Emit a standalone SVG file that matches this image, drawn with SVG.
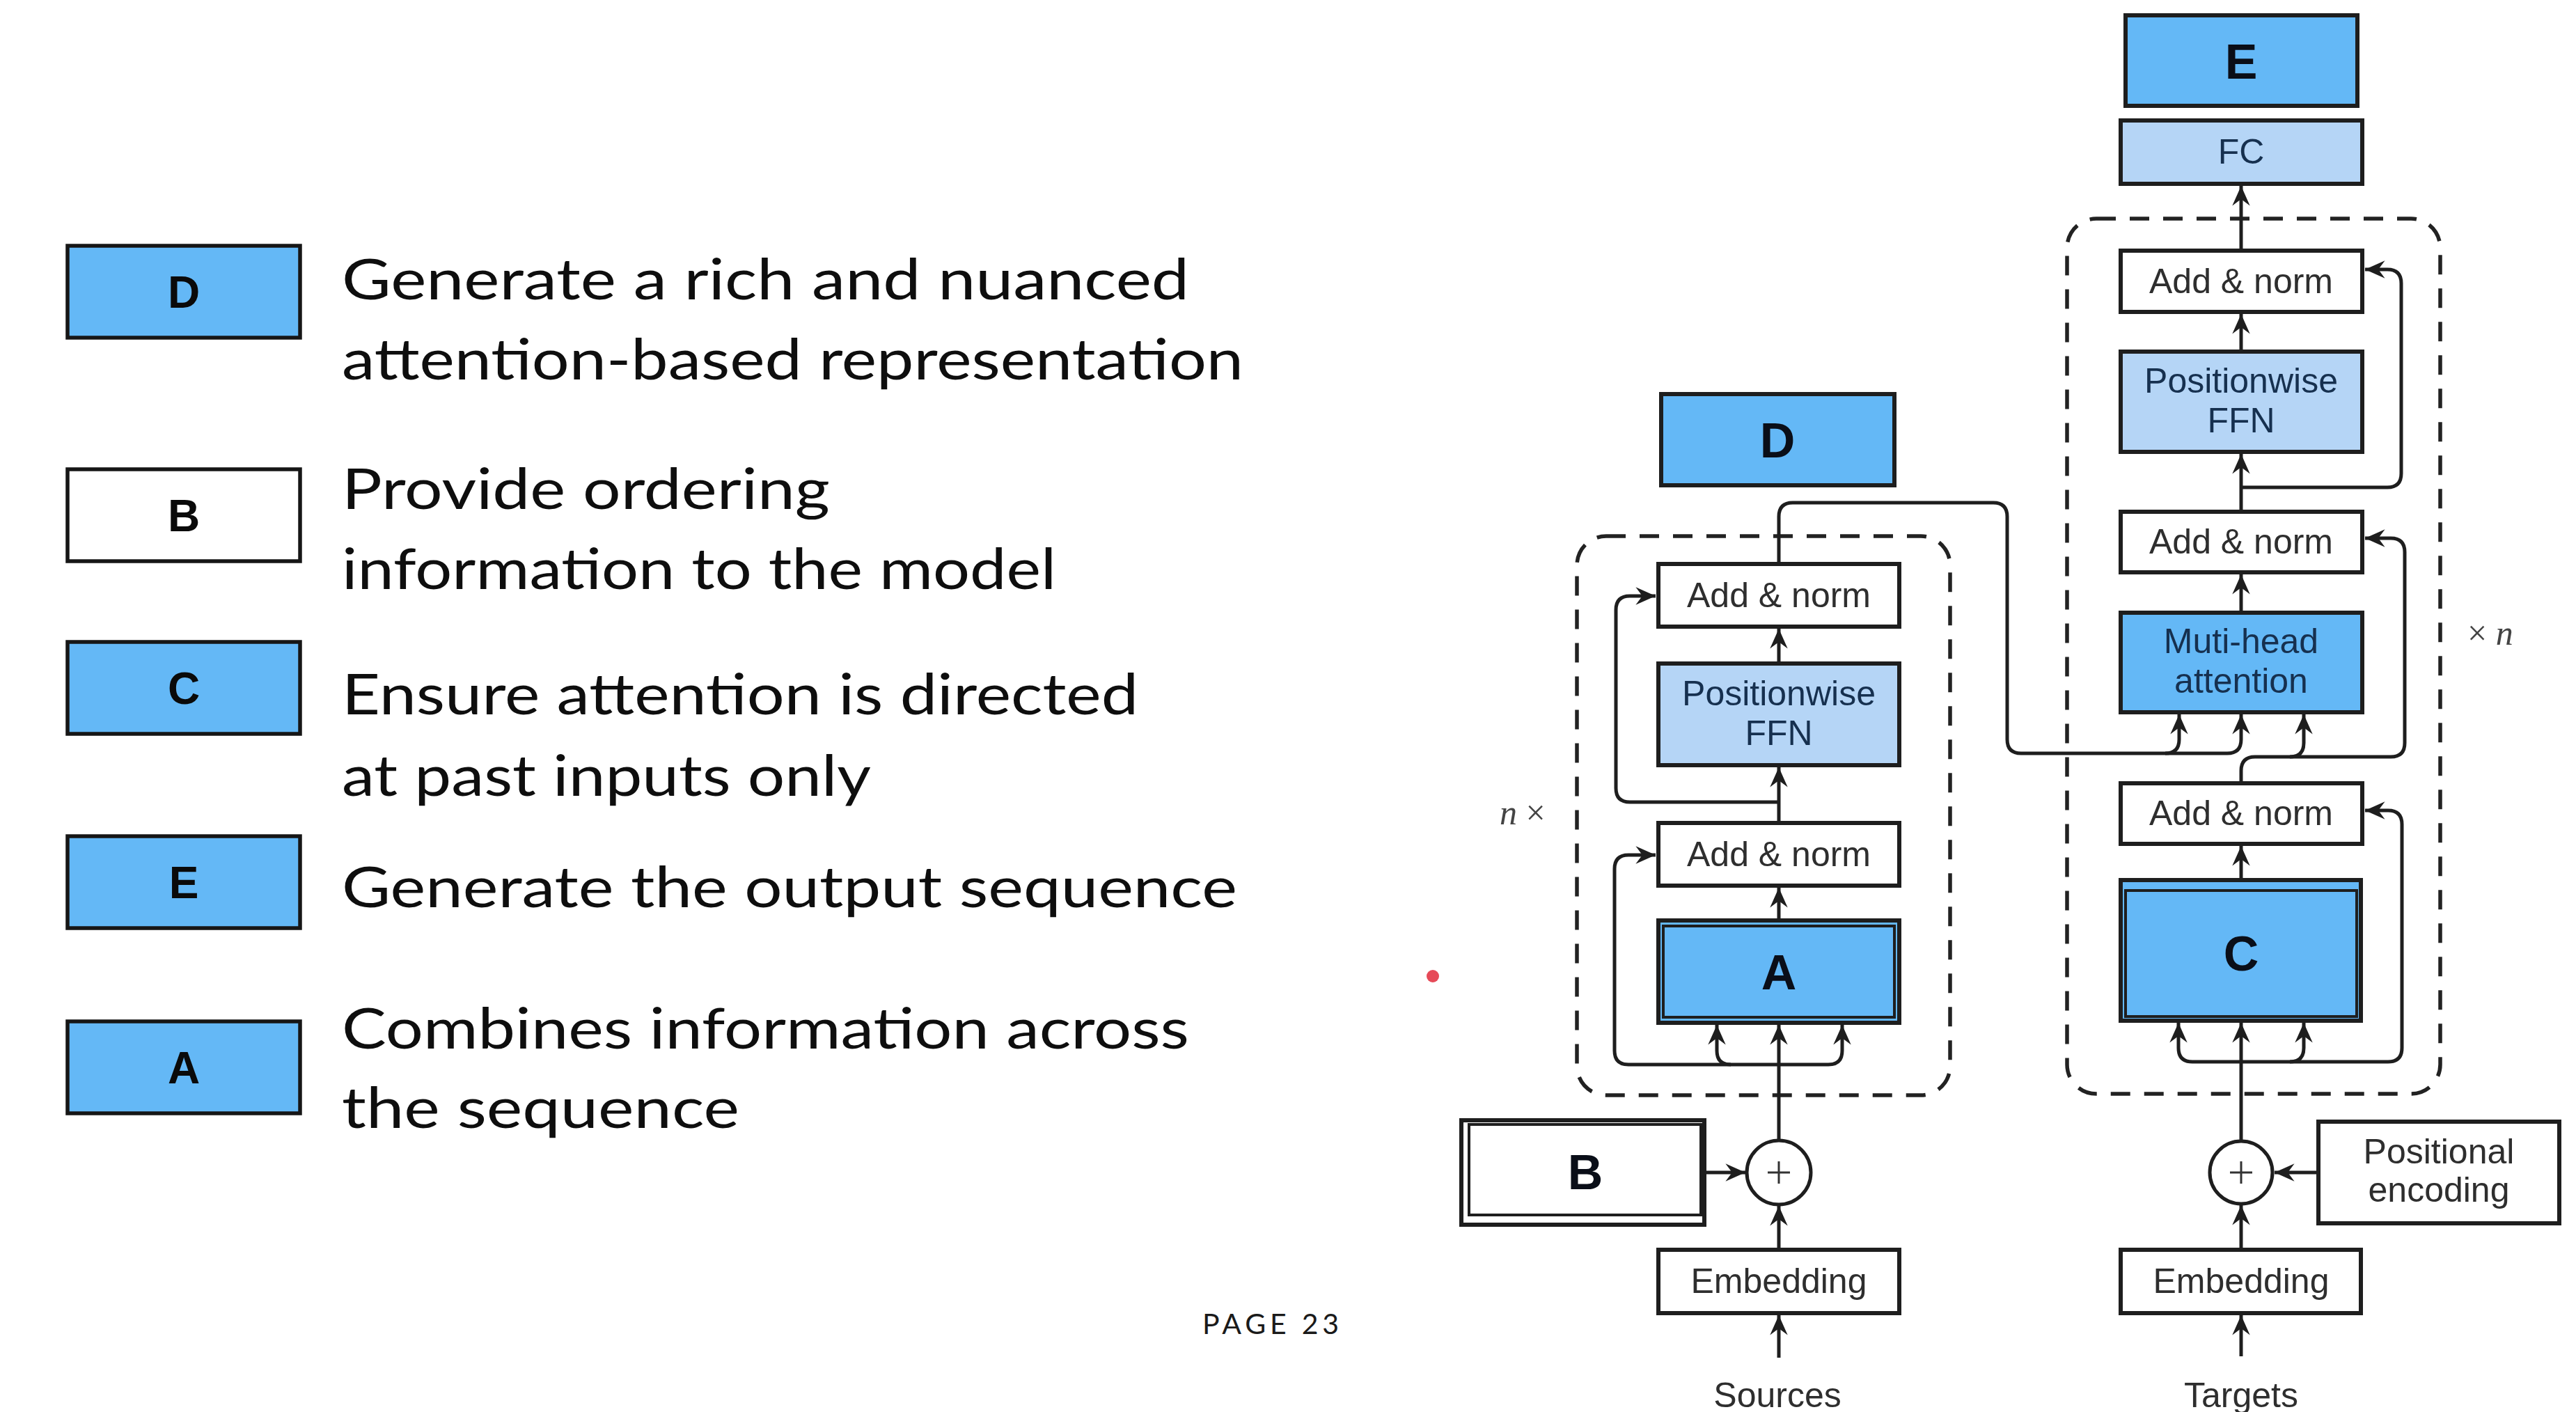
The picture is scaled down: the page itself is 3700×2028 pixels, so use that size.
<svg xmlns="http://www.w3.org/2000/svg" width="3700" height="2028" viewBox="0 0 3700 2028">
  <defs>
    <marker id="ah" markerUnits="userSpaceOnUse" markerWidth="36" markerHeight="36" viewBox="-30 -15 34 30" refX="0" refY="0" orient="auto">
      <path d="M0,0 L-27,-12 L-18,0 L-27,12 Z" fill="#1e1e1e"/>
    </marker>
  </defs>
  <style>
    .box { stroke: #1e1e1e; stroke-width: 6; }
    .white { fill: #ffffff; }
    .blue { fill: #64b8f6; }
    .light { fill: #b5d5f6; }
    .lgbox { stroke: #161616; stroke-width: 5.5; }
    .lbl { font-family: "Liberation Sans", Arial, Helvetica, sans-serif; font-size: 50px; fill: #2e2e2e; text-anchor: middle; }
    .navy { fill: #16304f; }
    .big { font-family: "Liberation Sans", Arial, Helvetica, sans-serif; font-weight: bold; font-size: 70px; fill: #0a0e18; text-anchor: middle; }
    .lgletter { font-family: "Liberation Sans", Arial, Helvetica, sans-serif; font-weight: bold; font-size: 64px; fill: #0a0a0a; text-anchor: middle; }
    .desc { font-family: Lato, "Open Sans", "Liberation Sans", sans-serif; font-size: 82px; fill: #0e0e0e; }
    .conn { fill: none; stroke: #1e1e1e; stroke-width: 5; }
    .arr { marker-end: url(#ah); }
    .dash { fill: none; stroke: #222222; stroke-width: 5.5; stroke-dasharray: 28 20; }
    .rep { font-family: "Liberation Serif", "DejaVu Serif", serif; font-size: 50px; fill: #444444; }
  </style>
  <rect x="0" y="0" width="3700" height="2028" fill="#ffffff"/>

  <!-- legend: lettered boxes with their descriptions -->
  <g id="legend-D">
    <rect class="lgbox blue" x="97" y="353" width="334" height="132"/>
    <text class="lgletter" x="264" y="442">D</text>
    <text class="desc" x="491" y="430" textLength="1217" lengthAdjust="spacingAndGlyphs">Generate a rich and nuanced</text>
    <text class="desc" x="491" y="545" textLength="1295" lengthAdjust="spacingAndGlyphs">attention-based representation</text>
  </g>
  <g id="legend-B">
    <rect class="lgbox white" x="97" y="674" width="334" height="132"/>
    <text class="lgletter" x="264" y="763">B</text>
    <text class="desc" x="491" y="731" textLength="701" lengthAdjust="spacingAndGlyphs">Provide ordering</text>
    <text class="desc" x="491" y="846" textLength="1026" lengthAdjust="spacingAndGlyphs">information to the model</text>
  </g>
  <g id="legend-C">
    <rect class="lgbox blue" x="97" y="922" width="334" height="132"/>
    <text class="lgletter" x="264" y="1011">C</text>
    <text class="desc" x="491" y="1026" textLength="1144" lengthAdjust="spacingAndGlyphs">Ensure attention is directed</text>
    <text class="desc" x="491" y="1143" textLength="760" lengthAdjust="spacingAndGlyphs">at past inputs only</text>
  </g>
  <g id="legend-E">
    <rect class="lgbox blue" x="97" y="1201" width="334" height="132"/>
    <text class="lgletter" x="264" y="1290">E</text>
    <text class="desc" x="491" y="1303" textLength="1286" lengthAdjust="spacingAndGlyphs">Generate the output sequence</text>
  </g>
  <g id="legend-A">
    <rect class="lgbox blue" x="97" y="1467" width="334" height="132"/>
    <text class="lgletter" x="264" y="1556">A</text>
    <text class="desc" x="491" y="1506" textLength="1217" lengthAdjust="spacingAndGlyphs">Combines information across</text>
    <text class="desc" x="491" y="1620" textLength="571" lengthAdjust="spacingAndGlyphs">the sequence</text>
  </g>

  <g id="page-number">
    <text x="1727" y="1916" font-family="Lato, 'Liberation Sans', sans-serif" font-size="41" fill="#1a1a1a" textLength="196" lengthAdjust="spacing">PAGE  23</text>
  </g>
  <circle id="pointer-dot" cx="2058" cy="1402" r="9" fill="#e64a58"/>

  <!-- repeated blocks -->
  <g id="encoder-block">
    <rect class="dash" x="2265" y="770" width="536" height="803" rx="42"/>
    <text class="rep" x="2154" y="1184"><tspan font-style="italic">n</tspan> ×</text>
  </g>
  <g id="decoder-block">
    <rect class="dash" x="2969" y="314" width="536" height="1257" rx="42"/>
    <text class="rep" x="3544" y="926">× <tspan font-style="italic">n</tspan></text>
  </g>

  <!-- connectors -->
  <g id="connectors">
    <!-- encoder -->
    <path class="conn arr" d="M2555,1950 V1889"/>
    <path class="conn arr" d="M2555,1795 V1732"/>
    <path class="conn arr" d="M2448,1684 H2507"/>
    <path class="conn arr" d="M2555,1638 V1472"/>
    <path class="conn arr" d="M2555,1529 H2486 Q2466,1529 2466,1509 V1472"/>
    <path class="conn arr" d="M2555,1529 H2626 Q2646,1529 2646,1509 V1472"/>
    <path class="conn arr" d="M2486,1529 H2339 Q2319,1529 2319,1509 V1248 Q2319,1228 2339,1228 H2378"/>
    <path class="conn arr" d="M2555,1322 V1275"/>
    <path class="conn arr" d="M2555,1182 V1102"/>
    <path class="conn arr" d="M2555,1152 H2341 Q2321,1152 2321,1132 V876 Q2321,856 2341,856 H2378"/>
    <path class="conn arr" d="M2555,953 V903"/>
    <!-- encoder output into decoder attention -->
    <path class="conn arr" d="M2555,810 V742 Q2555,722 2575,722 H2863 Q2883,722 2883,742 V1062 Q2883,1082 2903,1082 H3110 Q3130,1082 3130,1062 V1026"/>
    <path class="conn arr" d="M3110,1082 H3199 Q3219,1082 3219,1062 V1026"/>
    <!-- decoder -->
    <path class="conn arr" d="M3219,1948 V1889"/>
    <path class="conn arr" d="M3219,1795 V1731"/>
    <path class="conn arr" d="M3330,1684 H3267"/>
    <path class="conn arr" d="M3219,1638 V1469"/>
    <path class="conn arr" d="M3219,1525 H3149 Q3129,1525 3129,1505 V1469"/>
    <path class="conn arr" d="M3219,1525 H3289 Q3309,1525 3309,1505 V1469"/>
    <path class="conn arr" d="M3289,1525 H3430 Q3450,1525 3450,1505 V1184 Q3450,1164 3430,1164 H3397"/>
    <path class="conn arr" d="M3219,1264 V1215"/>
    <path class="conn arr" d="M3219,1125 V1107 Q3219,1087 3239,1087 H3289 Q3309,1087 3309,1067 V1026"/>
    <path class="conn arr" d="M3289,1087 H3434 Q3454,1087 3454,1067 V793 Q3454,773 3434,773 H3397"/>
    <path class="conn arr" d="M3219,880 V825"/>
    <path class="conn arr" d="M3219,735 V652"/>
    <path class="conn arr" d="M3219,700 H3429 Q3449,700 3449,680 V407 Q3449,387 3429,387 H3397"/>
    <path class="conn arr" d="M3219,505 V451"/>
    <path class="conn arr" d="M3219,360 V267"/>
  </g>

  <!-- encoder nodes -->
  <g id="enc-D">
    <rect class="box blue" x="2386" y="566" width="335" height="131"/>
    <text class="big" x="2553" y="657">D</text>
  </g>
  <g id="enc-addnorm-2">
    <rect class="box white" x="2382" y="810" width="346" height="90"/>
    <text class="lbl" x="2555" y="872">Add &amp; norm</text>
  </g>
  <g id="enc-ffn">
    <rect class="box light" x="2382" y="953" width="346" height="146"/>
    <text class="lbl navy" x="2555" y="1013">Positionwise</text>
    <text class="lbl navy" x="2555" y="1070">FFN</text>
  </g>
  <g id="enc-addnorm-1">
    <rect class="box white" x="2382" y="1182" width="346" height="90"/>
    <text class="lbl" x="2555" y="1244">Add &amp; norm</text>
  </g>
  <g id="enc-A">
    <rect class="box blue" x="2382" y="1322" width="346" height="147"/>
    <rect fill="none" stroke="#1e1e1e" stroke-width="4" x="2389" y="1330" width="332" height="131"/>
    <text class="big" x="2555" y="1421">A</text>
  </g>
  <g id="enc-plus">
    <circle cx="2555" cy="1684" r="46" fill="#ffffff" stroke="#1e1e1e" stroke-width="5"/>
    <path d="M2539,1684 H2571 M2555,1668 V1700" stroke="#333333" stroke-width="3" fill="none"/>
  </g>
  <g id="enc-B">
    <rect class="box white" x="2099" y="1609" width="349" height="150"/>
    <rect fill="none" stroke="#1e1e1e" stroke-width="4" x="2110" y="1615" width="333" height="130"/>
    <text class="big" x="2277" y="1708">B</text>
  </g>
  <g id="enc-embedding">
    <rect class="box white" x="2382" y="1795" width="346" height="91"/>
    <text class="lbl" x="2555" y="1857">Embedding</text>
  </g>
  <g id="enc-sources">
    <text class="lbl" x="2553" y="2021">Sources</text>
  </g>

  <!-- decoder nodes -->
  <g id="dec-E">
    <rect class="box blue" x="3053" y="22" width="333" height="130"/>
    <text class="big" x="3219" y="113">E</text>
  </g>
  <g id="dec-fc">
    <rect class="box light" x="3046" y="173" width="347" height="91"/>
    <text class="lbl navy" x="3219" y="235">FC</text>
  </g>
  <g id="dec-addnorm-3">
    <rect class="box white" x="3046" y="360" width="347" height="88"/>
    <text class="lbl" x="3219" y="421">Add &amp; norm</text>
  </g>
  <g id="dec-ffn">
    <rect class="box light" x="3046" y="505" width="347" height="144"/>
    <text class="lbl navy" x="3219" y="564">Positionwise</text>
    <text class="lbl navy" x="3219" y="621">FFN</text>
  </g>
  <g id="dec-addnorm-2">
    <rect class="box white" x="3046" y="735" width="347" height="87"/>
    <text class="lbl" x="3219" y="795">Add &amp; norm</text>
  </g>
  <g id="dec-attention">
    <rect class="box blue" x="3046" y="880" width="347" height="143"/>
    <text class="lbl navy" x="3219" y="938">Muti-head</text>
    <text class="lbl navy" x="3219" y="995">attention</text>
  </g>
  <g id="dec-addnorm-1">
    <rect class="box white" x="3046" y="1125" width="347" height="87"/>
    <text class="lbl" x="3219" y="1185">Add &amp; norm</text>
  </g>
  <g id="dec-C">
    <rect class="box blue" x="3046" y="1264" width="345" height="202"/>
    <rect fill="none" stroke="#1e1e1e" stroke-width="4" x="3053" y="1279" width="332" height="181"/>
    <text class="big" x="3219" y="1394">C</text>
  </g>
  <g id="dec-plus">
    <circle cx="3219" cy="1684" r="45" fill="#ffffff" stroke="#1e1e1e" stroke-width="5"/>
    <path d="M3203,1684 H3235 M3219,1668 V1700" stroke="#333333" stroke-width="3" fill="none"/>
  </g>
  <g id="dec-positional">
    <rect class="box white" x="3330" y="1611" width="346" height="146"/>
    <text class="lbl" x="3503" y="1671">Positional</text>
    <text class="lbl" x="3503" y="1726">encoding</text>
  </g>
  <g id="dec-embedding">
    <rect class="box white" x="3046" y="1795" width="345" height="91"/>
    <text class="lbl" x="3219" y="1857">Embedding</text>
  </g>
  <g id="dec-targets">
    <text class="lbl" x="3219" y="2021">Targets</text>
  </g>
</svg>
